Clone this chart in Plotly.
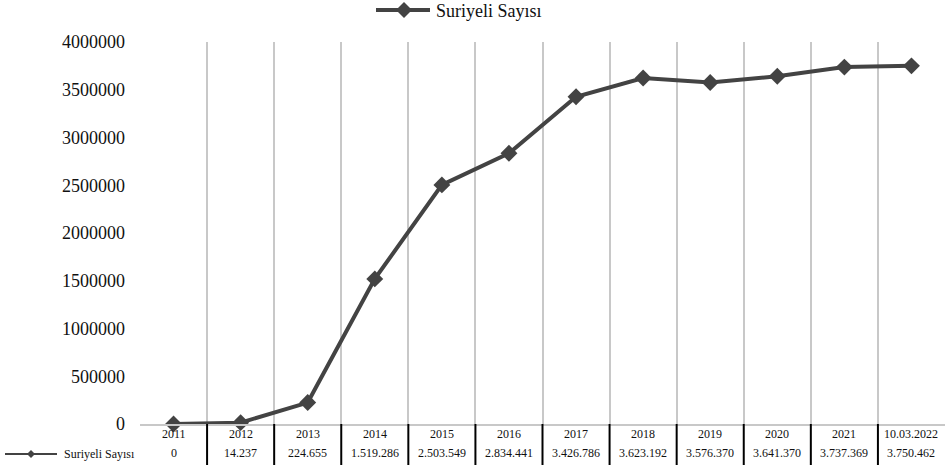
import plotly.graph_objects as go

categories = ["2011", "2012", "2013", "2014", "2015", "2016", "2017", "2018",
              "2019", "2020", "2021", "10.03.2022"]
values = [0, 14237, 224655, 1519286, 2503549, 2834441, 3426786, 3623192,
          3576370, 3641370, 3737369, 3750462]
series_name = "Suriyeli Sayısı"
y_ticks = [0, 500000, 1000000, 1500000, 2000000, 2500000, 3000000, 3500000, 4000000]

W, H = 948, 469
L, R, T, B = 140, 945, 42, 424
COL = "#434343"
FONT = "Liberation Serif"


def px(xpix):
    return (xpix - L) / (R - L)


def py(ypix):
    return (B - ypix) / (B - T)


def diamond_path(cx, cy, hw, hh):
    return (f"M{px(cx)},{py(cy - hh)} L{px(cx + hw)},{py(cy)} "
            f"L{px(cx)},{py(cy + hh)} L{px(cx - hw)},{py(cy)} Z")


n = len(categories)
xs = list(range(n))

fig = go.Figure()
fig.add_trace(go.Scatter(
    x=xs, y=values, mode="lines+markers", name=series_name,
    line=dict(color=COL, width=4),
    marker=dict(symbol="diamond", size=13, color=COL),
    showlegend=False, cliponaxis=False,
))

shapes = []
annotations = []
small = dict(family=FONT, size=12, color="#111")

# data table: borders, year row, value row
for i in range(1, n):
    shapes.append(dict(type="line", xref="x", yref="paper",
                       x0=i - 0.5, x1=i - 0.5, y0=0, y1=py(465),
                       line=dict(color="#000000", width=2)))
for i, (c, v) in enumerate(zip(categories, values)):
    annotations.append(dict(x=i, y=py(434), xref="x", yref="paper", text=c,
                            showarrow=False, font=small,
                            xanchor="center", yanchor="middle"))
    annotations.append(dict(x=i, y=py(453), xref="x", yref="paper",
                            text=f"{v:,}".replace(",", "."),
                            showarrow=False, font=small,
                            xanchor="center", yanchor="middle"))

# table legend key
shapes.append(dict(type="line", xref="paper", yref="paper",
                   x0=px(5), x1=px(57), y0=py(454), y1=py(454),
                   line=dict(color=COL, width=2)))
shapes.append(dict(type="path", xref="paper", yref="paper",
                   path=diamond_path(31, 454, 4, 4),
                   fillcolor=COL, line=dict(color=COL, width=0)))
annotations.append(dict(x=px(62), y=py(454), xref="paper", yref="paper",
                        text=series_name, showarrow=False, font=small,
                        xanchor="left", yanchor="middle"))

# top legend
shapes.append(dict(type="line", xref="paper", yref="paper",
                   x0=px(376), x1=px(430), y0=py(10), y1=py(10),
                   line=dict(color=COL, width=4)))
shapes.append(dict(type="path", xref="paper", yref="paper",
                   path=diamond_path(404, 10, 8, 8),
                   fillcolor=COL, line=dict(color=COL, width=0)))
annotations.append(dict(x=px(434), y=py(11), xref="paper", yref="paper",
                        text=series_name, showarrow=False,
                        font=dict(family=FONT, size=18, color="#111"),
                        xanchor="left", yanchor="middle"))

fig.update_layout(
    width=W, height=H,
    margin=dict(l=L, r=W - R, t=T, b=H - B, pad=0),
    paper_bgcolor="white", plot_bgcolor="white",
    font=dict(family=FONT, color="#111"),
    shapes=shapes, annotations=annotations,
    xaxis=dict(range=[-0.5, n - 0.5], tickmode="array",
               tickvals=[i - 0.5 for i in range(n)],
               showticklabels=False, ticks="",
               showgrid=True, gridcolor="#c8c8c8", gridwidth=2,
               showline=True, linecolor="#c8c8c8", linewidth=2,
               zeroline=False, fixedrange=True),
    yaxis=dict(range=[0, 4000000], tickmode="array", tickvals=y_ticks,
               ticktext=[str(t) for t in y_ticks],
               showgrid=False, zeroline=False, showline=False, ticks="",
               ticklabelstandoff=14,
               tickfont=dict(family=FONT, size=18, color="#111"),
               fixedrange=True),
)

fig.write_html("out.html")
